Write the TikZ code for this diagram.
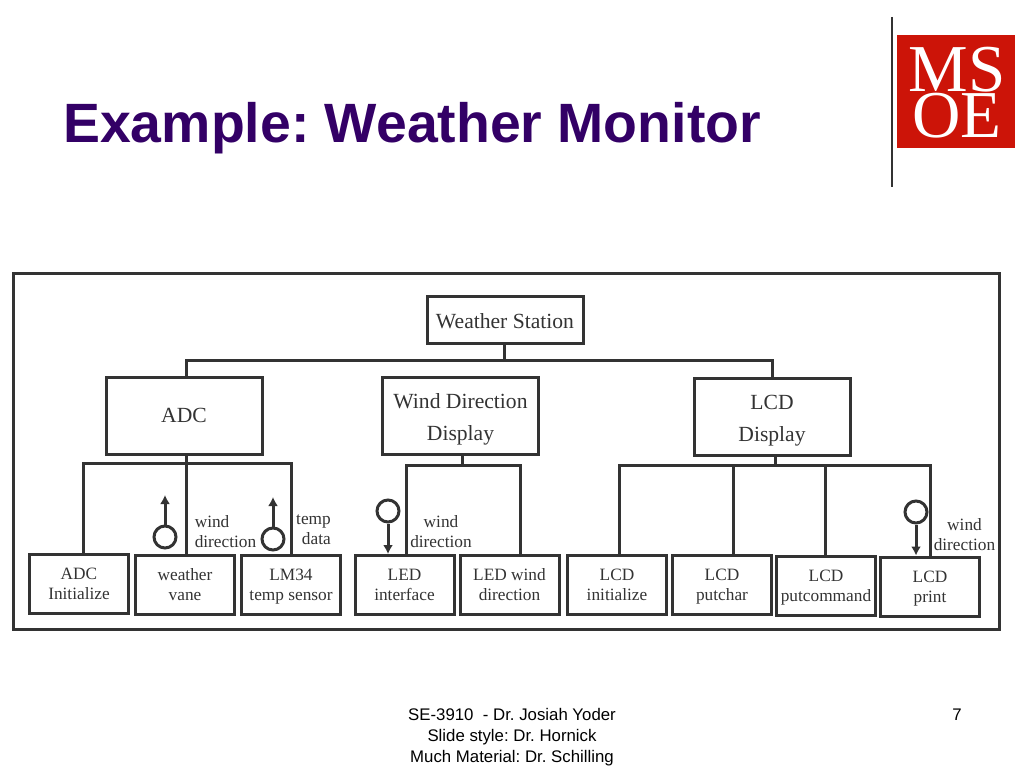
\documentclass[tikz,border=0pt]{standalone}
\usepackage{fontspec}
\setmainfont{Liberation Sans}
\newfontfamily\scanfont{Liberation Serif}
\usetikzlibrary{arrows.meta}
\definecolor{titlepurple}{HTML}{330066}
\definecolor{logored}{HTML}{CC1408}
\definecolor{scanink}{HTML}{333333}
\newcommand{\bigline}{\vrule width 0pt height 24.5pt depth 7.5pt}
\newcommand{\oneline}{\vrule width 0pt height 18.6pt depth 0pt}
\newcommand{\smallline}{\vrule width 0pt height 15.5pt depth 4.5pt}
\tikzset{
  bigbox/.style={draw=scanink,line width=3pt,minimum width=156pt,align=center,text=scanink,
    inner sep=0pt,font=\scanfont\fontsize{21.6}{32}\selectfont},
  smallbox/.style={draw=scanink,line width=3pt,minimum width=99pt,minimum height=59pt,align=center,
    text=scanink,inner sep=0pt,font=\scanfont\fontsize{17.3}{20}\selectfont},
  wire/.style={draw=scanink,line width=3pt},
  flowdot/.style={draw=scanink,line width=3pt,circle,minimum size=22pt,inner sep=0pt},
  flowarrow/.style={wire,-{Latex[length=9pt,width=10pt]}},
  flowlabel/.style={text=scanink,inner sep=0pt,font=\scanfont\fontsize{17.3}{20}\selectfont},
  footer/.style={align=center,inner sep=0pt,font=\frenchspacing\fontsize{16.8}{21}\selectfont}
}
\begin{document}
\begin{tikzpicture}[x=1pt,y=-1pt]
  \useasboundingbox (0,0) rectangle (1024,768);
  % slide
  \node[text=titlepurple,anchor=base west,inner sep=0pt,font=\frenchspacing\bfseries\fontsize{55.4}{60}\selectfont] (title) at (63,142) {Example: Weather Monitor};
  \draw[line width=1.4pt,scanink] (892,17) -- (892,187);
  \fill[logored] (897,35) rectangle (1015,148);
  \node[text=white,align=center,inner sep=0pt,font=\scanfont\fontsize{67}{46}\selectfont] (logo) at (957,92.5) {MS\\OE};
  \node[footer] (credits) at (512,737) {SE-3910 \ - Dr. Josiah Yoder\\Slide style: Dr. Hornick\\Much Material: Dr. Schilling};
  \node[footer] (pagenum) at (957,715) {7};
  % frame
  \draw[draw=scanink,line width=3pt] (13,273) rectangle (999,629);
  % top level
  \node[bigbox,minimum height=47pt] (station) at (505,319.5) {\oneline Weather Station};
  \node[bigbox,minimum height=77pt] (adc) at (184,415.5) {ADC};
  \node[bigbox,minimum height=77pt] (wind) at (460.5,415.5) {\bigline Wind Direction\\\bigline Display};
  \node[bigbox,minimum height=77pt] (lcd) at (772,416.5) {\bigline LCD\\\bigline Display};
  % bottom level
  \node[smallbox] (adcinit) at (79,584) {\smallline ADC\\\smallline Initialize};
  \node[smallbox] (vane) at (185,585) {\smallline weather\\\smallline vane};
  \node[smallbox] (lm34) at (291,585) {\smallline LM34\\\smallline temp sensor};
  \node[smallbox] (ledif) at (404.5,585) {\smallline LED\\\smallline interface};
  \node[smallbox] (ledwind) at (509.5,585) {\smallline LED wind\\\smallline direction};
  \node[smallbox] (lcdinit) at (617,585) {\smallline LCD\\\smallline initialize};
  \node[smallbox] (putchar) at (722,585) {\smallline LCD\\\smallline putchar};
  \node[smallbox] (putcmd) at (826,585.5) {\smallline LCD\\\smallline putcommand};
  \node[smallbox] (lcdprint) at (930,586.5) {\smallline LCD\\\smallline print};
  % buses
  \coordinate (topbus) at (504,360);
  \coordinate (adcbus) at (186,463);
  \coordinate (windbus) at (462,465);
  \coordinate (lcdbus) at (775,465);
  \draw[wire] (station.south -| topbus) -- (topbus);
  \draw[wire] (adc.north -| adcbus) |- (topbus);
  \draw[wire] (lcd.north) |- (topbus);
  \draw[wire] (wind.south -| windbus) -- (windbus);
  \draw[wire] (adc.south -| adcbus) -- (vane.north -| adcbus);
  \draw[wire] (lcd.south -| lcdbus) -- (lcdbus);
  \draw[wire] ([xshift=4pt]adcinit.north) |- (adcbus);
  \draw[wire] (lm34.north) |- (adcbus);
  \draw[wire] ([xshift=1.5pt]ledif.north) |- (windbus);
  \draw[wire] ([xshift=10.5pt]ledwind.north) |- (windbus);
  \draw[wire] ([xshift=2pt]lcdinit.north) |- (lcdbus);
  \draw[wire] ([xshift=11pt]putchar.north) |- (lcdbus);
  \draw[wire] ([xshift=-1pt]putcmd.north) |- (lcdbus);
  \draw[wire] (lcdprint.north) |- (lcdbus);
  % data flows
  \node[flowdot] (vanedot) at (165,537) {};
  \coordinate (vanetip) at (165,495);
  \draw[flowarrow] (vanedot) -- (vanetip);
  \node[flowdot] (lm34dot) at (273,539) {};
  \coordinate (lm34tip) at (273,497);
  \draw[flowarrow] (lm34dot) -- (lm34tip);
  \node[flowdot] (leddot) at (388,511) {};
  \draw[flowarrow] (leddot) -- (ledif.north -| leddot);
  \node[flowdot] (printdot) at (916,512) {};
  \draw[flowarrow] (printdot) -- (lcdprint.north -| printdot);
  \node[flowlabel,align=left] (vanelabel) at (225.5,532) {wind\\direction};
  \node[flowlabel,align=right] (templabel) at (313.5,530) {temp\\data};
  \node[flowlabel,align=center] (ledlabel) at (441,532) {wind\\direction};
  \node[flowlabel,align=center] (printlabel) at (964.5,535) {wind\\direction};
\end{tikzpicture}
\end{document}
